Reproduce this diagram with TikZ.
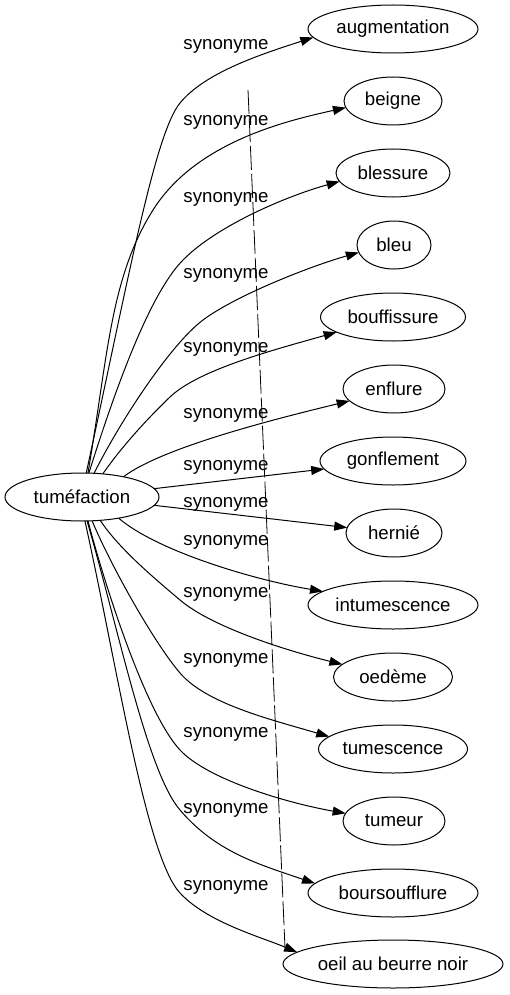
\documentclass[tikz,border=0pt]{standalone}
\usepackage{fontspec}
\setmainfont{Liberation Sans}
\usetikzlibrary{shapes.geometric,arrows.meta}
\begin{document}
\begin{tikzpicture}[x=1pt,y=-1pt,
  ell/.style={draw, ellipse, minimum height=48pt, inner sep=0pt, outer sep=0pt, line width=1pt,
              font=\fontsize{18.67}{22}\selectfont},
  edge/.style={line width=1pt, -{Triangle[length=13pt,width=9pt]}},
  lab/.style={font=\fontsize{18.67}{22}\selectfont, inner sep=0pt},
  dline/.style={line width=0.8pt, dash pattern=on 24pt off 4pt}]
\useasboundingbox (0,0) rectangle (509,995);

\node[ell, minimum width=154pt] (tum) at (82,497) {tuméfaction};
\node[ell, minimum width=170pt] (aug) at (393,29) {augmentation};
\node[ell, minimum width=98pt] (beigne) at (393,101) {beigne};
\node[ell, minimum width=114pt] (blessure) at (393,173) {blessure};
\node[ell, minimum width=74pt] (bleu) at (394,245) {bleu};
\node[ell, minimum width=145pt] (bouff) at (393,317) {bouffissure};
\node[ell, minimum width=102pt] (enflure) at (394,389) {enflure};
\node[ell, minimum width=146pt] (gonf) at (393,461) {gonflement};
\node[ell, minimum width=96pt] (hernie) at (394,533) {hernié};
\node[ell, minimum width=170pt] (intum) at (393,605) {intumescence};
\node[ell, minimum width=119pt] (oed) at (393,677) {oedème};
\node[ell, minimum width=149pt] (tumesc) at (393,749) {tumescence};
\node[ell, minimum width=102pt] (tumeur) at (394,821) {tumeur};
\node[ell, minimum width=170pt] (bours) at (393,893) {boursoufflure};
\node[ell, minimum width=220pt] (oeil) at (393,964) {oeil au beurre noir};

\node[lab] (l1) at (226,46) {synonyme};
\node[lab] (l2) at (226,122) {synonyme};
\node[lab] (l3) at (226,199) {synonyme};
\node[lab] (l4) at (226,275) {synonyme};
\node[lab] (l5) at (226,349) {synonyme};
\node[lab] (l6) at (226,415) {synonyme};
\node[lab] (l7) at (226,467) {synonyme};
\node[lab] (l8) at (226,504) {synonyme};
\node[lab] (l9) at (226,542) {synonyme};
\node[lab] (l10) at (226,594) {synonyme};
\node[lab] (l11) at (226,660) {synonyme};
\node[lab] (l12) at (226,734) {synonyme};
\node[lab] (l13) at (226,810) {synonyme};
\node[lab] (l14) at (226,887) {synonyme};

\draw[edge] (tum.80) .. controls (128.6,277.6) and (154.8,133.8) .. (180,103) .. controls (205.2,72.2) and (262,54) .. (aug.186);
\draw[edge] (tum.76) .. controls (108,355) and (110.3,277.7) .. (153,210) .. controls (195.7,142.3) and (285.4,121) .. (beigne.188);
\draw[edge] (tum.74) .. controls (113,396.7) and (148,295.5) .. (183,260) .. controls (218,224.5) and (290,195) .. (blessure.189);
\draw[edge] (tum.63) .. controls (121,419.6) and (171,344) .. (203,320) .. controls (235,296) and (308.9,266.6) .. (bleu.192);
\draw[edge] (tum.48) .. controls (122.3,445.8) and (148.4,417.7) .. (170,397) .. controls (198.8,369.4) and (275.6,349.4) .. (bouff.195);
\draw[edge] (tum.26) .. controls (163,447) and (277.5,418.4) .. (enflure.195);
\draw[edge] (tum) -- (gonf);
\draw[edge] (tum) -- (hernie);
\draw[edge] (tum.330) .. controls (157,551) and (254,580) .. (intum.169);
\draw[edge] (tum.308) .. controls (119,549) and (157,580.5) .. (180,600) .. controls (210.4,626) and (282,649.5) .. (oed.166);
\draw[edge] (tum.293) .. controls (111,566) and (154,642.6) .. (180,673) .. controls (206,703.4) and (268.8,719) .. (tumesc.169);
\draw[edge] (tum.284) .. controls (105.5,587.8) and (146,713.5) .. (180,750) .. controls (207.2,779.2) and (285,802.6) .. (tumeur.171);
\draw[edge] (tum.282) .. controls (120,635) and (147.5,772) .. (180,810) .. controls (215.75,851.8) and (257.8,864) .. (bours.173);
\draw[edge] (tum.277) .. controls (117.4,667.4) and (146,856.5) .. (180,893) .. controls (207.2,922.2) and (260,936.6) .. (oeil.173);

\coordinate (dtop) at (248,90);
\coordinate (dbot) at (285,948);
\draw[dline] (dtop) -- (dbot);
\end{tikzpicture}
\end{document}
